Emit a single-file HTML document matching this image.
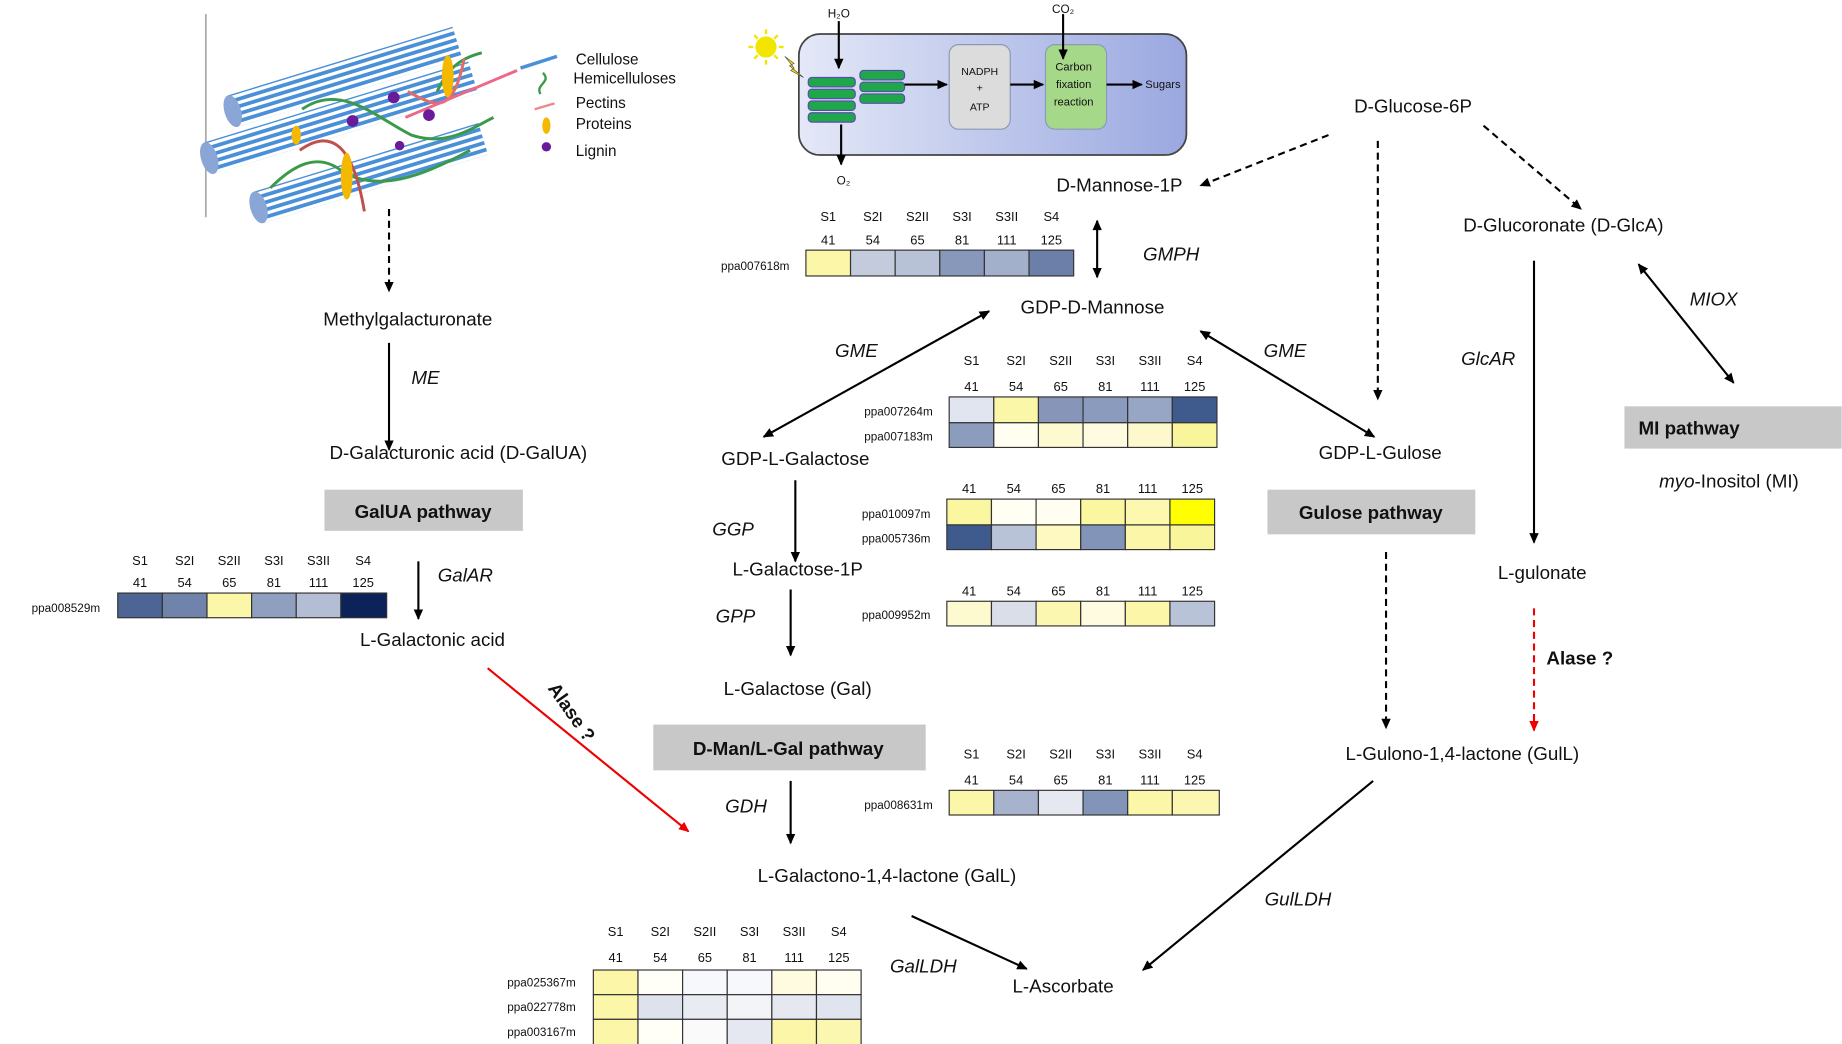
<!DOCTYPE html>
<html><head><meta charset="utf-8"><style>
html,body{margin:0;padding:0;background:#fff;}
svg{display:block;}
text{font-family:"Liberation Sans",sans-serif;fill:#111;}
.m{font-size:16px;text-anchor:middle;}
.e{font-size:16px;font-style:italic;text-anchor:middle;}
.h{font-size:11px;text-anchor:middle;}
.g{font-size:10px;text-anchor:end;}
.b{font-size:16px;font-weight:bold;text-anchor:middle;}
.cell{stroke:#333;stroke-width:1;}
</style></head><body>
<svg width="1842" height="1044" viewBox="0 0 1568 889" xmlns="http://www.w3.org/2000/svg">
<defs>
<marker id="a" markerWidth="10" markerHeight="10" refX="8" refY="5" orient="auto" markerUnits="userSpaceOnUse"><path d="M0,1 L9,5 L0,9 Z" fill="#000"/></marker>
<marker id="as" markerWidth="10" markerHeight="10" refX="1" refY="5" orient="auto" markerUnits="userSpaceOnUse"><path d="M9,1 L0,5 L9,9 Z" fill="#000"/></marker>
<marker id="ar" markerWidth="10" markerHeight="10" refX="8" refY="5" orient="auto" markerUnits="userSpaceOnUse"><path d="M0,1 L9,5 L0,9 Z" fill="#e00"/></marker>
<linearGradient id="cg" x1="0" x2="1"><stop offset="0" stop-color="#e4e8f7"/><stop offset="1" stop-color="#9aa8e0"/></linearGradient>
<pattern id="st" width="8" height="6" patternUnits="userSpaceOnUse"><rect width="8" height="6" fill="#fff"/><rect width="8" height="3.2" fill="#4a90d9"/></pattern>
</defs>

<!-- cell wall -->
<line x1="175" y1="12" x2="175" y2="185" stroke="#aaa" stroke-width="1.5"/>
<g transform="translate(224,190) rotate(-17)"><rect x="0" y="-28" width="200" height="28" fill="url(#st)"/><ellipse cx="0" cy="-14" rx="7" ry="14" fill="#8aa6d6"/></g>
<g transform="translate(182,148) rotate(-17)"><rect x="0" y="-28" width="235" height="28" fill="url(#st)"/><ellipse cx="0" cy="-14" rx="7" ry="14" fill="#8aa6d6"/></g>
<g transform="translate(202,108) rotate(-17)"><rect x="0" y="-28" width="200" height="28" fill="url(#st)"/><ellipse cx="0" cy="-14" rx="7" ry="14" fill="#8aa6d6"/></g>
<g fill="none" stroke-width="2.5">
<path d="M257,93 C290,70 320,100 350,115 C380,125 400,110 420,100" stroke="#3a9a4a"/>
<path d="M230,160 C250,140 270,130 290,145 C320,165 360,150 400,128" stroke="#3a9a4a"/>
<path d="M372,78 C380,60 390,50 410,45" stroke="#3a9a4a"/>
<path d="M255,128 C280,110 300,120 310,180" stroke="#c0504d"/>
<path d="M347,78 C370,90 385,100 395,50" stroke="#e26b6b"/>
<path d="M345,100 L440,60" stroke="#e68"/>
</g>
<ellipse cx="295" cy="150" rx="5" ry="20" fill="#f5b800"/>
<ellipse cx="381" cy="65" rx="5" ry="18" fill="#f5b800"/>
<ellipse cx="252" cy="115" rx="4" ry="8" fill="#f5b800"/>
<circle cx="300" cy="103" r="5" fill="#6a1b9a"/><circle cx="335" cy="83" r="5" fill="#6a1b9a"/><circle cx="365" cy="98" r="5" fill="#6a1b9a"/><circle cx="340" cy="124" r="4" fill="#6a1b9a"/>
<line x1="443" y1="58" x2="474" y2="48" stroke="#4a90d9" stroke-width="3"/>
<path d="M460,80 C455,72 470,70 462,62" stroke="#3a9a4a" stroke-width="2" fill="none"/>
<line x1="455" y1="93" x2="472" y2="88" stroke="#e88" stroke-width="2"/>
<ellipse cx="465" cy="107" rx="3.5" ry="7" fill="#f5b800"/>
<circle cx="465" cy="125" r="4" fill="#6a1b9a"/>
<text x="490" y="55" style="font-size:13px">Cellulose</text>
<text x="488" y="71" style="font-size:13px">Hemicelluloses</text>
<text x="490" y="92" style="font-size:13px">Pectins</text>
<text x="490" y="110" style="font-size:13px">Proteins</text>
<text x="490" y="133" style="font-size:13px">Lignin</text>

<!-- chloroplast -->
<rect x="680" y="29" width="330" height="103" rx="18" fill="url(#cg)" stroke="#444" stroke-width="1.5"/>
<circle cx="652" cy="40" r="9" fill="#f2e600"/>
<g stroke="#f2e600" stroke-width="2"><line x1="652" y1="25" x2="652" y2="29"/><line x1="652" y1="51" x2="652" y2="55"/><line x1="637" y1="40" x2="641" y2="40"/><line x1="663" y1="40" x2="667" y2="40"/><line x1="642" y1="30" x2="645" y2="33"/><line x1="659" y1="47" x2="662" y2="50"/><line x1="662" y1="30" x2="659" y2="33"/><line x1="642" y1="50" x2="645" y2="47"/></g>
<path d="M668,48 L676,54 L672,56 L684,66 L673,60 L676,58 Z" fill="#f2d800" stroke="#444" stroke-width="0.5"/>
<g fill="#1fa84a" stroke="#5a4bb0" stroke-width="1">
<rect x="688" y="66" width="40" height="8" rx="3"/><rect x="688" y="76" width="40" height="8" rx="3"/><rect x="688" y="86" width="40" height="8" rx="3"/><rect x="688" y="96" width="40" height="8" rx="3"/>
<rect x="732" y="60" width="38" height="8" rx="3"/><rect x="732" y="70" width="38" height="8" rx="3"/><rect x="732" y="80" width="38" height="8" rx="3"/>
</g>
<rect x="808" y="38" width="52" height="72" rx="8" fill="#dcdcdc" stroke="#8a9ab8"/>
<rect x="890" y="38" width="52" height="72" rx="8" fill="#a6d88a" stroke="#8a9ab8"/>
<text x="834" y="64" style="font-size:9px;text-anchor:middle">NADPH</text><text x="834" y="78" style="font-size:9px;text-anchor:middle">+</text><text x="834" y="94" style="font-size:9px;text-anchor:middle">ATP</text>
<text x="914" y="60" style="font-size:9.5px;text-anchor:middle">Carbon</text><text x="914" y="75" style="font-size:9.5px;text-anchor:middle">fixation</text><text x="914" y="90" style="font-size:9.5px;text-anchor:middle">reaction</text>
<g stroke="#000" stroke-width="1.8" fill="none">
<line x1="714" y1="18" x2="714" y2="58" marker-end="url(#a)"/>
<line x1="716" y1="106" x2="716" y2="140" marker-end="url(#a)"/>
<line x1="770" y1="72" x2="806" y2="72" marker-end="url(#a)"/>
<line x1="860" y1="72" x2="888" y2="72" marker-end="url(#a)"/>
<line x1="942" y1="72" x2="972" y2="72" marker-end="url(#a)"/>
<line x1="905" y1="12" x2="905" y2="50" marker-end="url(#a)"/>
</g>
<text x="714" y="15" style="font-size:10px;text-anchor:middle">H₂O</text>
<text x="905" y="11" style="font-size:10px;text-anchor:middle">CO₂</text>
<text x="718" y="157" style="font-size:10px;text-anchor:middle">O₂</text>
<text x="990" y="75" style="font-size:9.5px;text-anchor:middle">Sugars</text>

<!-- metabolites -->
<text class="m" x="347" y="277">Methylgalacturonate</text>
<text class="m" x="390" y="391">D-Galacturonic acid (D-GalUA)</text>
<rect x="276" y="417" width="169" height="35" fill="#c8c8c8"/><text class="b" x="360" y="441">GalUA pathway</text>
<text class="m" x="368" y="550">L-Galactonic acid</text>
<text class="m" x="953" y="163">D-Mannose-1P</text>
<text class="m" x="930" y="267">GDP-D-Mannose</text>
<text class="m" x="677" y="396">GDP-L-Galactose</text>
<text class="m" x="679" y="490">L-Galactose-1P</text>
<text class="m" x="679" y="592">L-Galactose (Gal)</text>
<rect x="556" y="617" width="232" height="39" fill="#c8c8c8"/><text class="b" x="671" y="643">D-Man/L-Gal pathway</text>
<text class="m" x="755" y="751">L-Galactono-1,4-lactone (GalL)</text>
<text class="m" x="905" y="845">L-Ascorbate</text>
<text class="m" x="1203" y="96">D-Glucose-6P</text>
<text class="m" x="1331" y="197">D-Glucoronate (D-GlcA)</text>
<text class="m" x="1175" y="391">GDP-L-Gulose</text>
<rect x="1079" y="417" width="177" height="38" fill="#c8c8c8"/><text class="b" x="1167" y="442">Gulose pathway</text>
<text class="m" x="1313" y="493">L-gulonate</text>
<text class="m" x="1245" y="647">L-Gulono-1,4-lactone (GulL)</text>
<rect x="1383" y="346" width="185" height="36" fill="#c8c8c8"/><text class="b" x="1395" y="370" style="text-anchor:start">MI pathway</text>
<text class="m" x="1472" y="415"><tspan font-style="italic">myo</tspan>-Inositol (MI)</text>

<!-- enzymes -->
<text class="e" x="362" y="327">ME</text>
<text class="e" x="997" y="222">GMPH</text>
<text class="e" x="729" y="304">GME</text>
<text class="e" x="1094" y="304">GME</text>
<text class="e" x="624" y="456">GGP</text>
<text class="e" x="626" y="530">GPP</text>
<text class="e" x="635" y="692">GDH</text>
<text class="e" x="396" y="495">GalAR</text>
<text class="e" x="1267" y="311">GlcAR</text>
<text class="e" x="1459" y="260">MIOX</text>
<text class="e" x="1105" y="771">GulLDH</text>
<text class="e" x="786" y="828">GalLDH</text>
<text class="b" x="487" y="612" transform="rotate(55 487 606)">Alase ?</text>
<text class="b" x="1345" y="566">Alase ?</text>

<!-- arrows -->
<g stroke="#000" stroke-width="1.8" fill="none">
<line x1="331" y1="178" x2="331" y2="248" stroke-dasharray="6,4" marker-end="url(#a)"/>
<line x1="331" y1="292" x2="331" y2="383" marker-end="url(#a)"/>
<line x1="356" y1="478" x2="356" y2="527" marker-end="url(#a)"/>
<line x1="934" y1="188" x2="934" y2="236" marker-start="url(#as)" marker-end="url(#a)"/>
<line x1="1131" y1="115" x2="1022" y2="158" stroke-dasharray="6,4" marker-end="url(#a)"/>
<line x1="1173" y1="120" x2="1173" y2="340" stroke-dasharray="6,4" marker-end="url(#a)"/>
<line x1="1263" y1="107" x2="1346" y2="178" stroke-dasharray="6,4" marker-end="url(#a)"/>
<line x1="842" y1="265" x2="650" y2="372" marker-start="url(#as)" marker-end="url(#a)"/>
<line x1="1022" y1="282" x2="1170" y2="372" marker-start="url(#as)" marker-end="url(#a)"/>
<line x1="1306" y1="222" x2="1306" y2="462" marker-end="url(#a)"/>
<line x1="1395" y1="225" x2="1476" y2="326" marker-start="url(#as)" marker-end="url(#a)"/>
<line x1="677" y1="409" x2="677" y2="478" marker-end="url(#a)"/>
<line x1="673" y1="502" x2="673" y2="558" marker-end="url(#a)"/>
<line x1="673" y1="665" x2="673" y2="718" marker-end="url(#a)"/>
<line x1="1180" y1="470" x2="1180" y2="620" stroke-dasharray="6,4" marker-end="url(#a)"/>
<line x1="776" y1="780" x2="874" y2="825" marker-end="url(#a)"/>
<line x1="1169" y1="665" x2="973" y2="826" marker-end="url(#a)"/>
</g>
<line x1="415" y1="569" x2="586" y2="708" stroke="#e00" stroke-width="1.8" marker-end="url(#ar)"/>
<line x1="1306" y1="518" x2="1306" y2="622" stroke="#e00" stroke-width="1.8" stroke-dasharray="6,4" marker-end="url(#ar)"/>

<!-- heatmap 1 -->
<g class="h"><text class="h" x="705" y="188">S1</text><text class="h" x="743" y="188">S2I</text><text class="h" x="781" y="188">S2II</text><text class="h" x="819" y="188">S3I</text><text class="h" x="857" y="188">S3II</text><text class="h" x="895" y="188">S4</text>
<text class="h" x="705" y="208">41</text><text class="h" x="743" y="208">54</text><text class="h" x="781" y="208">65</text><text class="h" x="819" y="208">81</text><text class="h" x="857" y="208">111</text><text class="h" x="895" y="208">125</text></g>
<text class="g" x="672" y="230">ppa007618m</text>
<rect class="cell" x="686" y="213" width="38" height="22" fill="#fbf6a8"/><rect class="cell" x="724" y="213" width="38" height="22" fill="#c3cbdd"/><rect class="cell" x="762" y="213" width="38" height="22" fill="#b7c2d6"/><rect class="cell" x="800" y="213" width="38" height="22" fill="#8798bb"/><rect class="cell" x="838" y="213" width="38" height="22" fill="#a3b0cc"/><rect class="cell" x="876" y="213" width="38" height="22" fill="#6c7fa8"/>

<!-- heatmap 2 -->
<text class="h" x="827" y="311">S1</text><text class="h" x="865" y="311">S2I</text><text class="h" x="903" y="311">S2II</text><text class="h" x="941" y="311">S3I</text><text class="h" x="979" y="311">S3II</text><text class="h" x="1017" y="311">S4</text>
<text class="h" x="827" y="333">41</text><text class="h" x="865" y="333">54</text><text class="h" x="903" y="333">65</text><text class="h" x="941" y="333">81</text><text class="h" x="979" y="333">111</text><text class="h" x="1017" y="333">125</text>
<text class="g" x="794" y="354">ppa007264m</text><text class="g" x="794" y="375">ppa007183m</text>
<rect class="cell" x="808" y="338" width="38" height="22" fill="#e0e5ef"/><rect class="cell" x="846" y="338" width="38" height="22" fill="#fbf7a8"/><rect class="cell" x="884" y="338" width="38" height="22" fill="#8796b8"/><rect class="cell" x="922" y="338" width="38" height="22" fill="#8b9bbd"/><rect class="cell" x="960" y="338" width="38" height="22" fill="#97a6c4"/><rect class="cell" x="998" y="338" width="38" height="22" fill="#3f5a8c"/>
<rect class="cell" x="808" y="360" width="38" height="21" fill="#8b9cbd"/><rect class="cell" x="846" y="360" width="38" height="21" fill="#fffef0"/><rect class="cell" x="884" y="360" width="38" height="21" fill="#fdf9d0"/><rect class="cell" x="922" y="360" width="38" height="21" fill="#fffbe0"/><rect class="cell" x="960" y="360" width="38" height="21" fill="#fdf9cc"/><rect class="cell" x="998" y="360" width="38" height="21" fill="#f9f59a"/>

<!-- heatmap 3 -->
<text class="h" x="825" y="420">41</text><text class="h" x="863" y="420">54</text><text class="h" x="901" y="420">65</text><text class="h" x="939" y="420">81</text><text class="h" x="977" y="420">111</text><text class="h" x="1015" y="420">125</text>
<text class="g" x="792" y="441">ppa010097m</text><text class="g" x="792" y="462">ppa005736m</text>
<rect class="cell" x="806" y="425" width="38" height="22" fill="#fbf6a0"/><rect class="cell" x="844" y="425" width="38" height="22" fill="#fffff4"/><rect class="cell" x="882" y="425" width="38" height="22" fill="#fffef0"/><rect class="cell" x="920" y="425" width="38" height="22" fill="#fbf6a0"/><rect class="cell" x="958" y="425" width="38" height="22" fill="#fdf8b0"/><rect class="cell" x="996" y="425" width="38" height="22" fill="#ffff00"/>
<rect class="cell" x="806" y="447" width="38" height="21" fill="#3f5a8c"/><rect class="cell" x="844" y="447" width="38" height="21" fill="#b9c3d8"/><rect class="cell" x="882" y="447" width="38" height="21" fill="#fdf9c0"/><rect class="cell" x="920" y="447" width="38" height="21" fill="#8294b8"/><rect class="cell" x="958" y="447" width="38" height="21" fill="#fbf6a8"/><rect class="cell" x="996" y="447" width="38" height="21" fill="#f9f59a"/>

<!-- heatmap 4 -->
<text class="h" x="825" y="507">41</text><text class="h" x="863" y="507">54</text><text class="h" x="901" y="507">65</text><text class="h" x="939" y="507">81</text><text class="h" x="977" y="507">111</text><text class="h" x="1015" y="507">125</text>
<text class="g" x="792" y="527">ppa009952m</text>
<rect class="cell" x="806" y="512" width="38" height="21" fill="#fdfad0"/><rect class="cell" x="844" y="512" width="38" height="21" fill="#d9dee9"/><rect class="cell" x="882" y="512" width="38" height="21" fill="#fbf7b0"/><rect class="cell" x="920" y="512" width="38" height="21" fill="#fffbe0"/><rect class="cell" x="958" y="512" width="38" height="21" fill="#fbf6a8"/><rect class="cell" x="996" y="512" width="38" height="21" fill="#b9c3d8"/>

<!-- heatmap GalAR -->
<text class="h" x="119" y="481">S1</text><text class="h" x="157" y="481">S2I</text><text class="h" x="195" y="481">S2II</text><text class="h" x="233" y="481">S3I</text><text class="h" x="271" y="481">S3II</text><text class="h" x="309" y="481">S4</text>
<text class="h" x="119" y="500">41</text><text class="h" x="157" y="500">54</text><text class="h" x="195" y="500">65</text><text class="h" x="233" y="500">81</text><text class="h" x="271" y="500">111</text><text class="h" x="309" y="500">125</text>
<text class="g" x="85" y="521">ppa008529m</text>
<rect class="cell" x="100" y="505" width="38" height="21" fill="#4c6594"/><rect class="cell" x="138" y="505" width="38" height="21" fill="#6f83ab"/><rect class="cell" x="176" y="505" width="38" height="21" fill="#fbf6a8"/><rect class="cell" x="214" y="505" width="38" height="21" fill="#8f9fc0"/><rect class="cell" x="252" y="505" width="38" height="21" fill="#b3bed4"/><rect class="cell" x="290" y="505" width="39" height="21" fill="#0b2358"/>

<!-- heatmap GDH -->
<text class="h" x="827" y="646">S1</text><text class="h" x="865" y="646">S2I</text><text class="h" x="903" y="646">S2II</text><text class="h" x="941" y="646">S3I</text><text class="h" x="979" y="646">S3II</text><text class="h" x="1017" y="646">S4</text>
<text class="h" x="827" y="668">41</text><text class="h" x="865" y="668">54</text><text class="h" x="903" y="668">65</text><text class="h" x="941" y="668">81</text><text class="h" x="979" y="668">111</text><text class="h" x="1017" y="668">125</text>
<text class="g" x="794" y="689">ppa008631m</text>
<rect class="cell" x="808" y="673" width="38" height="21" fill="#fbf6a8"/><rect class="cell" x="846" y="673" width="38" height="21" fill="#a7b3cd"/><rect class="cell" x="884" y="673" width="38" height="21" fill="#e5e8f0"/><rect class="cell" x="922" y="673" width="38" height="21" fill="#8294b8"/><rect class="cell" x="960" y="673" width="38" height="21" fill="#fbf6a8"/><rect class="cell" x="998" y="673" width="40" height="21" fill="#fbf7b0"/>

<!-- heatmap GalLDH -->
<text class="h" x="524" y="797">S1</text><text class="h" x="562" y="797">S2I</text><text class="h" x="600" y="797">S2II</text><text class="h" x="638" y="797">S3I</text><text class="h" x="676" y="797">S3II</text><text class="h" x="714" y="797">S4</text>
<text class="h" x="524" y="819">41</text><text class="h" x="562" y="819">54</text><text class="h" x="600" y="819">65</text><text class="h" x="638" y="819">81</text><text class="h" x="676" y="819">111</text><text class="h" x="714" y="819">125</text>
<text class="g" x="490" y="840">ppa025367m</text><text class="g" x="490" y="861">ppa022778m</text><text class="g" x="490" y="882">ppa003167m</text>
<rect class="cell" x="505" y="826" width="38" height="21" fill="#fbf6a8"/><rect class="cell" x="543" y="826" width="38" height="21" fill="#fffff8"/><rect class="cell" x="581" y="826" width="38" height="21" fill="#f7f8fb"/><rect class="cell" x="619" y="826" width="38" height="21" fill="#f7f8fb"/><rect class="cell" x="657" y="826" width="38" height="21" fill="#fffbe0"/><rect class="cell" x="695" y="826" width="38" height="21" fill="#fffef0"/>
<rect class="cell" x="505" y="847" width="38" height="21" fill="#fbf6a8"/><rect class="cell" x="543" y="847" width="38" height="21" fill="#dde2ec"/><rect class="cell" x="581" y="847" width="38" height="21" fill="#e8ebf2"/><rect class="cell" x="619" y="847" width="38" height="21" fill="#f3f4f8"/><rect class="cell" x="657" y="847" width="38" height="21" fill="#e5e8f0"/><rect class="cell" x="695" y="847" width="38" height="21" fill="#dfe4ee"/>
<rect class="cell" x="505" y="868" width="38" height="22" fill="#fbf6a8"/><rect class="cell" x="543" y="868" width="38" height="22" fill="#fffff8"/><rect class="cell" x="581" y="868" width="38" height="22" fill="#fafafa"/><rect class="cell" x="619" y="868" width="38" height="22" fill="#e5e8f0"/><rect class="cell" x="657" y="868" width="38" height="22" fill="#fbf6a8"/><rect class="cell" x="695" y="868" width="38" height="22" fill="#fbf7b0"/>
</svg>
</body></html>
